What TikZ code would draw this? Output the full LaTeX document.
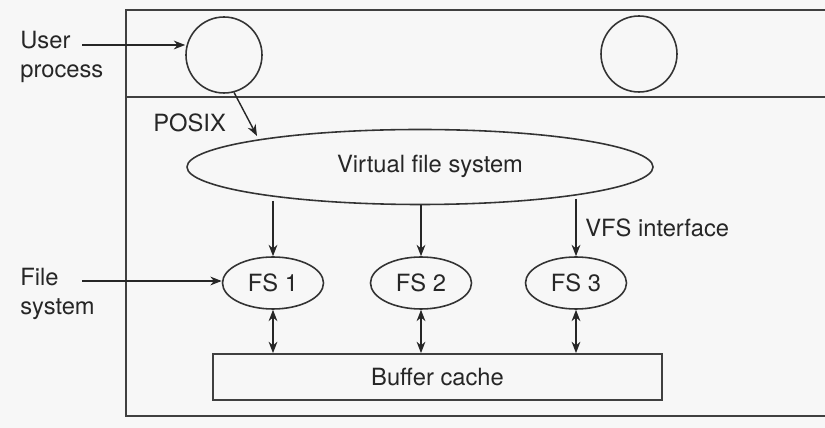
\documentclass[tikz,border=0pt]{standalone}
\usepackage{fontspec}
\setmainfont{TeX Gyre Heros}
\usetikzlibrary{arrows.meta,shapes.geometric}
\tikzset{
  vfsframe/.style={line width=1pt, draw=black!75},
  vfsproc/.style={circle, draw=black!80, line width=0.9pt, minimum size=76*0.02cm, inner sep=0pt},
  vfsoval/.style={ellipse, draw=black!80, line width=0.9pt, inner sep=0pt},
  vfsbox/.style={rectangle, draw=black!75, line width=1pt, inner sep=0pt},
  vfsarrow/.style={line width=0.8pt, draw=black!85, -{Stealth[length=6.5pt,width=5pt]}},
  vfsboth/.style={line width=0.8pt, draw=black!85, {Stealth[length=6.5pt,width=5pt]}-{Stealth[length=6.5pt,width=5pt]}},
  vfslabel/.style={font=\fontsize{13.5}{16.5}\selectfont, text=black!85, inner sep=0pt},
}

\begin{document}
\begin{tikzpicture}[x=0.02cm, y=-0.02cm]
\useasboundingbox[fill=black!3] (0,0) rectangle (825,428);
% frame
\draw[vfsframe] (825,10) -- (126,10) -- (126,416) -- (825,416);
\draw[vfsframe] (126,97) -- (825,97);
% processes
\node[vfsproc] (proc1) at (224,55) {};
\node[vfsproc] (proc2) at (639,54) {};
\node[vfslabel, anchor=north west, align=left] (userlbl) at (20,31) {User\\process};
\coordinate (userend) at (82,45);
\draw[vfsarrow] (userend) -- (proc1.west |- userend);
% virtual file system
\node[vfsoval, minimum width=466*0.02cm, minimum height=75*0.02cm] (vfs) at (420,167) {};
\node[vfslabel] (vfstext) at (430,166) {Virtual file system};
\node[vfslabel, anchor=west] (posix) at (153,123) {POSIX};
\draw[vfsarrow] (proc1.-75) -- (257,136);
% file systems
\node[vfsoval, minimum width=101*0.02cm, minimum height=52*0.02cm] (fs1) at (273,283) {};
\node[vfsoval, minimum width=101*0.02cm, minimum height=52*0.02cm] (fs2) at (421,283) {};
\node[vfsoval, minimum width=101*0.02cm, minimum height=52*0.02cm] (fs3) at (576,283) {};
\node[vfslabel] (fs1text) at (fs1) {FS 1};
\node[vfslabel] (fs2text) at (fs2) {FS 2};
\node[vfslabel] (fs3text) at (fs3) {FS 3};
\draw[vfsarrow] (fs1.north |- 0,201) -- (fs1.north);
\draw[vfsarrow] (fs2.north |- vfs.south) -- (fs2.north);
\draw[vfsarrow] (fs3.north |- 0,199) -- (fs3.north);
\node[vfslabel, anchor=west] (vfsif) at (585,228) {VFS interface};
\node[vfslabel, anchor=north west, align=left] (fslbl) at (20,268) {File\\system};
\coordinate (fsend) at (82,281);
\draw[vfsarrow] (fsend) -- (fs1.west |- fsend);
% buffer cache
\node[vfsbox, minimum width=449*0.02cm, minimum height=46*0.02cm] (cache) at (437.5,377) {};
\node[vfslabel] (cachetext) at (cache) {Buffer cache};
\draw[vfsboth] (fs1.south) -- (fs1.south |- cache.north);
\draw[vfsboth] (fs2.south) -- (fs2.south |- cache.north);
\draw[vfsboth] (fs3.south) -- (fs3.south |- cache.north);
\end{tikzpicture}
\end{document}
